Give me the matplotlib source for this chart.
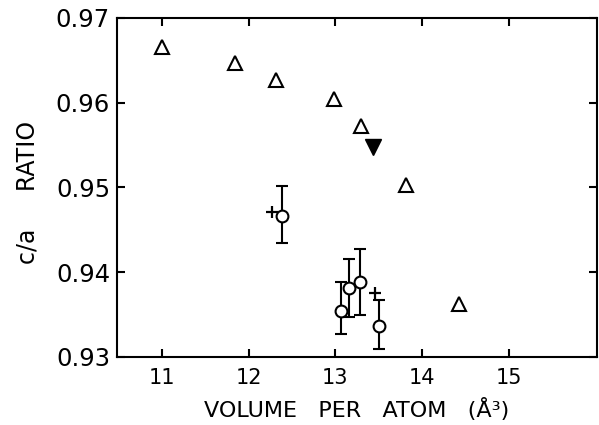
import matplotlib
matplotlib.use('Agg')
import matplotlib.pyplot as plt

# open triangles: c/a ratio vs volume per atom
tri_vol = [11.00, 11.84, 12.32, 12.98, 13.30, 13.82, 14.43]
tri_ca = [0.9666, 0.9647, 0.9627, 0.9604, 0.9573, 0.9503, 0.9363]

# filled triangle
fill_vol = [13.44]
fill_ca = [0.9548]

# open circles with error bars
circ_vol = [12.39, 13.06, 13.16, 13.29, 13.50]
circ_ca = [0.9466, 0.9354, 0.9381, 0.9389, 0.9337]
circ_err_lo = [0.0032, 0.0027, 0.0034, 0.0039, 0.0027]
circ_err_hi = [0.0036, 0.0035, 0.0035, 0.0038, 0.0030]

# crosses
plus_vol = [12.27, 13.46]
plus_ca = [0.9471, 0.9375]

xticks = [11, 12, 13, 14, 15]
xlabels = ['11', '12', '13', '14', '15']
yticks = [0.93, 0.94, 0.95, 0.96, 0.97]

plt.rcParams['font.family'] = ['DejaVu Sans']

fig = plt.figure(figsize=(5.99, 4.25), dpi=100)
ax = fig.add_axes([117 / 599, 1 - 357 / 425, 480 / 599, 339 / 425])

ax.plot(tri_vol, tri_ca, linestyle='none', marker='^', markersize=10,
        markerfacecolor='white', markeredgecolor='black', markeredgewidth=1.5)
ax.plot(fill_vol, fill_ca, linestyle='none', marker='v', markersize=12,
        color='black')
ax.errorbar(circ_vol, circ_ca, yerr=[circ_err_lo, circ_err_hi], fmt='o',
            markersize=8.5, markerfacecolor='white', markeredgecolor='black',
            markeredgewidth=1.5, ecolor='black', elinewidth=1.5, capsize=4,
            capthick=1.5)
ax.plot(plus_vol, plus_ca, linestyle='none', marker='+', markersize=8,
        color='black', markeredgewidth=1.6)

ax.set_xlim(10.48, 16.02)
ax.set_ylim(0.93, 0.97)
ax.set_xticks(xticks)
ax.set_xticklabels(xlabels)
ax.set_yticks(yticks)
ax.set_yticklabels(['%.2f' % v for v in yticks])

ax.tick_params(direction='in', length=5.5, width=1.5, top=True, right=True,
               labelright=False, labeltop=False)
ax.tick_params(axis='y', labelsize=17.5, pad=5)
ax.tick_params(axis='x', labelsize=15, pad=8)
for s in ax.spines.values():
    s.set_linewidth(1.5)

ax.set_xlabel('VOLUME   PER   ATOM   (Å³)', fontsize=16, labelpad=7)
ax.set_ylabel('c/a     RATIO', fontsize=17, labelpad=12)
ax.yaxis.label.set_y(0.485)

fig.savefig('out.png', dpi=100)
